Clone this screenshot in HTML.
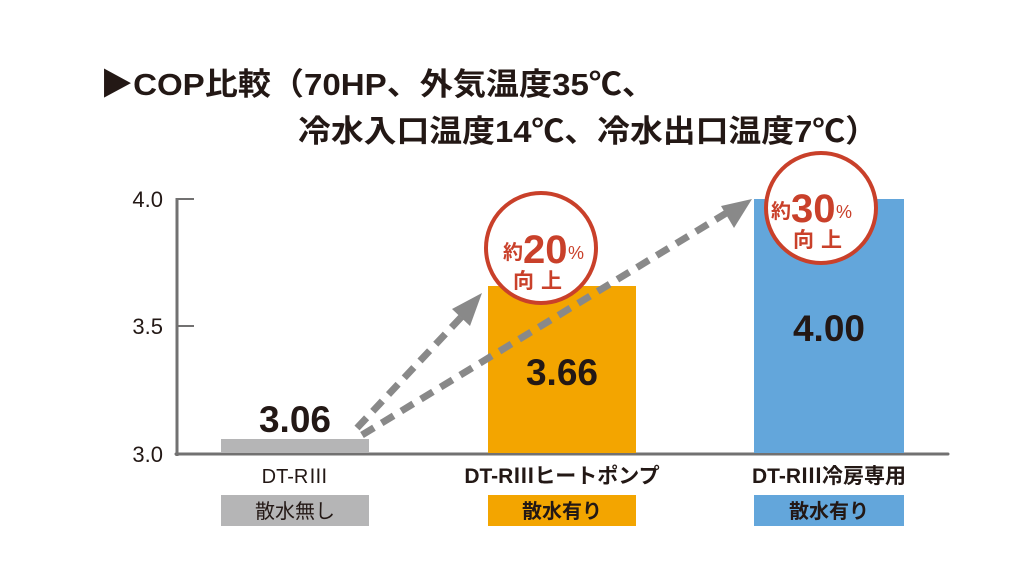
<!DOCTYPE html>
<html><head><meta charset="utf-8"><style>
html,body{margin:0;padding:0;background:#fff;}
svg{display:block;}
text{font-family:"Liberation Sans","Noto Sans CJK JP",sans-serif;}
.cjk{font-family:"Noto Sans CJK JP",sans-serif;}
</style></head><body>
<svg width="1022" height="588" viewBox="0 0 1022 588" xmlns="http://www.w3.org/2000/svg">
<rect width="1022" height="588" fill="#fff"/>
<!-- title -->
<text x="100" y="95" font-size="31" font-weight="bold" fill="#231815" textLength="555" lengthAdjust="spacingAndGlyphs">▶COP比較（70HP、外気温度35℃、</text>
<text x="298" y="142" font-size="31" font-weight="bold" fill="#231815" textLength="580" lengthAdjust="spacingAndGlyphs">冷水入口温度14℃、冷水出口温度7℃）</text>
<!-- axes -->
<line x1="177" y1="198" x2="177" y2="456" stroke="#727171" stroke-width="3"/>
<line x1="176" y1="454" x2="948" y2="454" stroke="#727171" stroke-width="3" stroke-linecap="round"/>
<line x1="177" y1="199" x2="194" y2="199" stroke="#727171" stroke-width="2"/>
<line x1="177" y1="326" x2="194" y2="326" stroke="#727171" stroke-width="2"/>
<g font-size="22" fill="#231815" text-anchor="end">
<text x="163" y="207">4.0</text>
<text x="163" y="334">3.5</text>
<text x="163" y="462">3.0</text>
</g>
<!-- bars -->
<rect x="221" y="439" width="148" height="14" fill="#b5b5b6"/>
<rect x="488" y="286" width="148" height="167" fill="#f3a500"/>
<rect x="754" y="199" width="150" height="254" fill="#63a6db"/>
<g font-size="37" font-weight="bold" fill="#231815" text-anchor="middle">
<text x="295" y="432">3.06</text>
<text x="562" y="385">3.66</text>
<text x="829" y="341">4.00</text>
</g>
<!-- arrows -->
<g stroke="#898989" stroke-width="7" stroke-dasharray="14,9" fill="none">
<line x1="357" y1="428" x2="466" y2="312"/>
<line x1="362" y1="435" x2="728" y2="212"/>
</g>
<polygon points="482,293 470,326 452,309" fill="#898989"/>
<polygon points="752,199 734,228 721,206" fill="#898989"/>
<!-- circles -->
<circle cx="541" cy="248" r="55" fill="#fff" stroke="#c9402a" stroke-width="4"/>
<text x="503" y="259" font-size="20" font-weight="bold" fill="#c9402a">約</text>
<text x="523" y="263" font-size="40" font-weight="bold" fill="#c9402a">20</text>
<text x="568" y="259" font-size="18" fill="#c9402a">%</text>
<text x="541" y="288" font-size="21" font-weight="bold" fill="#c9402a" text-anchor="middle" letter-spacing="7">向上</text>
<circle cx="821" cy="208" r="55" fill="#fff" stroke="#c9402a" stroke-width="4"/>
<text x="771" y="218" font-size="20" font-weight="bold" fill="#c9402a">約</text>
<text x="791" y="222" font-size="40" font-weight="bold" fill="#c9402a">30</text>
<text x="836" y="218" font-size="18" fill="#c9402a">%</text>
<text x="821" y="247" font-size="21" font-weight="bold" fill="#c9402a" text-anchor="middle" letter-spacing="7">向上</text>
<!-- labels -->
<text x="295" y="483" font-size="20" fill="#231815" text-anchor="middle">DT-R<tspan class="cjk">Ⅲ</tspan></text>
<text x="562" y="483" font-size="21" font-weight="bold" fill="#231815" text-anchor="middle">DT-R<tspan class="cjk">Ⅲ</tspan>ヒートポンプ</text>
<text x="829" y="483" font-size="21" font-weight="bold" fill="#231815" text-anchor="middle">DT-R<tspan class="cjk">Ⅲ</tspan>冷房専用</text>
<rect x="221" y="495" width="148" height="31" fill="#b5b5b6"/>
<rect x="488" y="495" width="148" height="31" fill="#f3a500"/>
<rect x="754" y="495" width="150" height="31" fill="#63a6db"/>
<text x="295" y="518" font-size="20" fill="#231815" text-anchor="middle">散水無し</text>
<text x="562" y="518" font-size="20" font-weight="bold" fill="#231815" text-anchor="middle">散水有り</text>
<text x="829" y="518" font-size="20" font-weight="bold" fill="#231815" text-anchor="middle">散水有り</text>
</svg>
</body></html>
